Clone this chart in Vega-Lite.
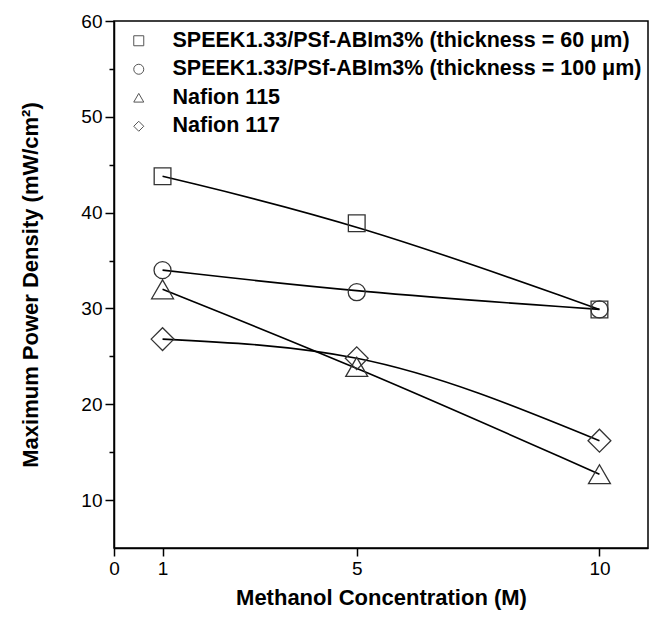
{
  "$schema": "https://vega.github.io/schema/vega-lite/v6.json",
  "width": 534,
  "height": 527,
  "autosize": "none",
  "padding": {"left": 114, "top": 21, "right": 3, "bottom": 70},
  "background": "white",
  "config": {
    "view": {"stroke": "black", "strokeWidth": 1.5},
    "font": "Liberation Sans"
  },
  "data": {
    "values": [
      {"series": "SPEEK1.33/PSf-ABIm3% (thickness = 60 μm)", "conc": 1, "power": 43.8},
      {"series": "SPEEK1.33/PSf-ABIm3% (thickness = 60 μm)", "conc": 5, "power": 38.9},
      {"series": "SPEEK1.33/PSf-ABIm3% (thickness = 60 μm)", "conc": 10, "power": 29.9},
      {"series": "SPEEK1.33/PSf-ABIm3% (thickness = 100 μm)", "conc": 1, "power": 34.0},
      {"series": "SPEEK1.33/PSf-ABIm3% (thickness = 100 μm)", "conc": 5, "power": 31.7},
      {"series": "SPEEK1.33/PSf-ABIm3% (thickness = 100 μm)", "conc": 10, "power": 29.9},
      {"series": "Nafion 115", "conc": 1, "power": 32.0},
      {"series": "Nafion 115", "conc": 5, "power": 23.9},
      {"series": "Nafion 115", "conc": 10, "power": 12.7},
      {"series": "Nafion 117", "conc": 1, "power": 26.8},
      {"series": "Nafion 117", "conc": 5, "power": 24.8},
      {"series": "Nafion 117", "conc": 10, "power": 16.2}
    ]
  },
  "encoding": {
    "x": {
      "field": "conc", "type": "quantitative",
      "scale": {"domain": [0, 11], "nice": false, "zero": false},
      "axis": {
        "values": [0, 1, 5, 10],
        "labelFlush": false,
        "title": "Methanol Concentration (M)",
        "titleFont": "Liberation Sans", "titleFontSize": 22, "titleFontWeight": "bold", "titleColor": "black",
        "titlePadding": 9,
        "labelFont": "Liberation Sans", "labelFontSize": 19, "labelColor": "black", "labelPadding": 3,
        "tickSize": 8, "tickWidth": 1.5, "tickColor": "black",
        "domainColor": "black", "domainWidth": 1.5,
        "grid": false
      }
    },
    "y": {
      "field": "power", "type": "quantitative",
      "scale": {"domain": [5, 60], "nice": false, "zero": false},
      "axis": {
        "values": [10, 15, 20, 25, 30, 35, 40, 45, 50, 55, 60],
        "labelFlush": false,
        "labelExpr": "datum.value % 10 === 0 ? datum.label : ''",
        "tickSize": {"condition": {"test": "datum.value % 10 === 0", "value": 9}, "value": 5},
        "title": "Maximum Power Density (mW/cm²)",
        "titleFont": "Liberation Sans", "titleFontSize": 22, "titleFontWeight": "bold", "titleColor": "black",
        "titlePadding": 38,
        "labelFont": "Liberation Sans", "labelFontSize": 19, "labelColor": "black", "labelPadding": 3,
        "tickWidth": 1.5, "tickColor": "black",
        "domainColor": "black", "domainWidth": 1.5,
        "grid": false
      }
    },
    "shape": {
      "field": "series", "type": "nominal",
      "scale": {
        "domain": ["SPEEK1.33/PSf-ABIm3% (thickness = 60 μm)", "SPEEK1.33/PSf-ABIm3% (thickness = 100 μm)", "Nafion 115", "Nafion 117"],
        "range": ["square", "circle", "triangle-up", "diamond"]
      },
      "legend": {
        "title": null,
        "orient": "none",
        "legendX": 14,
        "legendY": 9,
        "padding": 0,
        "symbolSize": 100,
        "symbolStrokeWidth": 1,
        "symbolStrokeColor": "#555",
        "symbolFillColor": "transparent",
        "labelFont": "Liberation Sans",
        "labelFontSize": 21.5,
        "labelFontWeight": "bold",
        "labelColor": "black",
        "labelOffset": 23,
        "labelLimit": 600,
        "rowPadding": 5.5
      }
    }
  },
  "layer": [
    {
      "transform": [{"filter": "datum.series !== 'Nafion 117'"}],
      "mark": {"type": "line", "interpolate": "basis", "color": "black", "strokeWidth": 1.6},
      "encoding": {"detail": {"field": "series"}, "shape": null}
    },
    {
      "transform": [{"filter": "datum.series === 'Nafion 117'"}],
      "mark": {"type": "line", "interpolate": "monotone", "color": "black", "strokeWidth": 1.6},
      "encoding": {"detail": {"field": "series"}, "shape": null}
    },
    {
      "transform": [{"filter": "datum.series === 'SPEEK1.33/PSf-ABIm3% (thickness = 60 μm)'"}],
      "mark": {"type": "point", "filled": false, "color": "#333", "strokeWidth": 1.3, "opacity": 1, "size": 280}
    },
    {
      "transform": [{"filter": "datum.series === 'SPEEK1.33/PSf-ABIm3% (thickness = 100 μm)'"}],
      "mark": {"type": "point", "filled": false, "color": "#333", "strokeWidth": 1.3, "opacity": 1, "size": 290}
    },
    {
      "transform": [{"filter": "datum.series === 'Nafion 115'"}],
      "mark": {"type": "point", "filled": false, "color": "#333", "strokeWidth": 1.3, "opacity": 1, "size": 480}
    },
    {
      "transform": [{"filter": "datum.series === 'Nafion 117'"}],
      "mark": {"type": "point", "filled": false, "color": "#333", "strokeWidth": 1.3, "opacity": 1, "size": 520}
    }
  ]
}
